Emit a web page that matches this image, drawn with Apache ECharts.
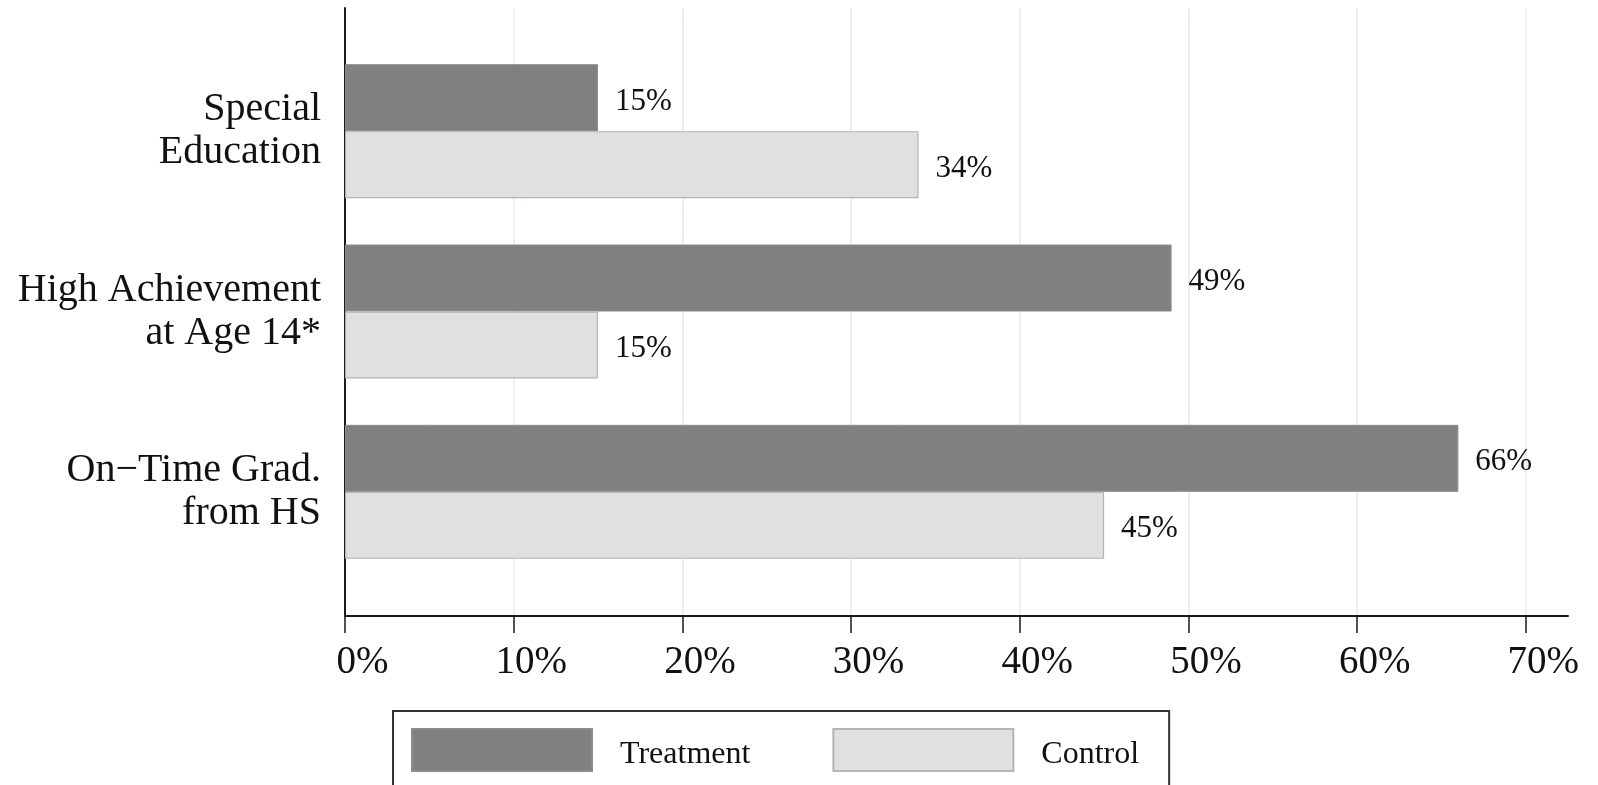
<!DOCTYPE html>
<html>
<head>
<meta charset="utf-8">
<script src="https://cdn.jsdelivr.net/npm/echarts@6/dist/echarts.min.js"></script>
<style>html,body{margin:0;padding:0;background:#fff;}#c{width:1598px;height:785px;}</style>
</head>
<body>
<div id="c"></div>
<script>
const categories = ['Special\nEducation', 'High Achievement\nat Age 14*', 'On\u2212Time Grad.\nfrom HS'];
const treatment = [15, 49, 66];
const control = [34, 15, 45];
const tickValues = [0, 10, 20, 30, 40, 50, 60, 70];
const seriesNames = ['Treatment', 'Control'];

const FONT = '"Liberation Serif", "DejaVu Serif", serif';
const XMAX = 72.5;

const chart = echarts.init(document.getElementById('c'), null, {renderer: 'canvas'});
chart.setOption({
  animation: false,
  backgroundColor: '#ffffff',
  grid: [
    {left: 345, right: 30, top: 8, bottom: 169, containLabel: false},
    {left: 345, right: 30, top: 41, bottom: 203, containLabel: false}
  ],
  legend: {
    data: seriesNames,
    left: 393, top: 711,
    padding: [17, 30, 18, 18],
    itemWidth: 180, itemHeight: 42, itemGap: 82,
    borderColor: '#333', borderWidth: 2,
    icon: 'rect',
    formatter: name => '{t|' + name + '}',
    textStyle: {
      fontFamily: FONT, fontSize: 32, color: '#111', padding: [0, 0, 0, 23],
      rich: {t: {fontFamily: FONT, fontSize: 32, color: '#111', padding: [10, 0, 0, 0]}}
    }
  },
  xAxis: [
    {
      type: 'value', gridIndex: 0, min: 0, max: XMAX, interval: 10,
      axisLine: {show: true, lineStyle: {color: '#1a1a1a', width: 2}},
      axisTick: {show: true, length: 17, lineStyle: {color: '#1a1a1a', width: 1.5}, customValues: tickValues},
      axisLabel: {
        show: true, margin: 27, fontFamily: FONT, fontSize: 39, color: '#111',
        customValues: tickValues, padding: [0, 0, 0, 35],
        formatter: v => v + '%'
      },
      splitLine: {show: true, lineStyle: {color: '#e2edef', width: 1.5}}
    },
    {
      type: 'value', gridIndex: 1, min: 0, max: XMAX, interval: 10,
      axisLine: {show: false}, axisTick: {show: false}, axisLabel: {show: false}, splitLine: {show: false}
    }
  ],
  yAxis: [
    {
      type: 'value', gridIndex: 0, min: 0, max: 1,
      axisLine: {show: true, onZero: false, lineStyle: {color: '#1a1a1a', width: 2}},
      axisTick: {show: false}, axisLabel: {show: false}, splitLine: {show: false}
    },
    {
      type: 'category', gridIndex: 1, data: categories, inverse: true,
      axisLine: {show: false}, axisTick: {show: false}, splitLine: {show: false},
      axisLabel: {
        margin: 24, fontFamily: FONT, fontSize: 40, lineHeight: 43, color: '#111', align: 'right'
      }
    }
  ],
  series: [
    {
      name: 'Treatment', type: 'bar', xAxisIndex: 1, yAxisIndex: 1, data: treatment,
      barWidth: 67, barGap: '0%',
      itemStyle: {color: '#808080', borderColor: '#8c8c8c', borderWidth: 1},
      label: {show: true, position: 'right', distance: 17, offset: [0, 4], fontFamily: FONT, fontSize: 31, color: '#111', formatter: p => p.value + '%'}
    },
    {
      name: 'Control', type: 'bar', xAxisIndex: 1, yAxisIndex: 1, data: control,
      barWidth: 67, barGap: '0%',
      itemStyle: {color: '#e0e0e0', borderColor: '#b4b4b4', borderWidth: 1.2},
      label: {show: true, position: 'right', distance: 17, offset: [0, 4], fontFamily: FONT, fontSize: 31, color: '#111', formatter: p => p.value + '%'}
    }
  ]
});
</script>
</body>
</html>
